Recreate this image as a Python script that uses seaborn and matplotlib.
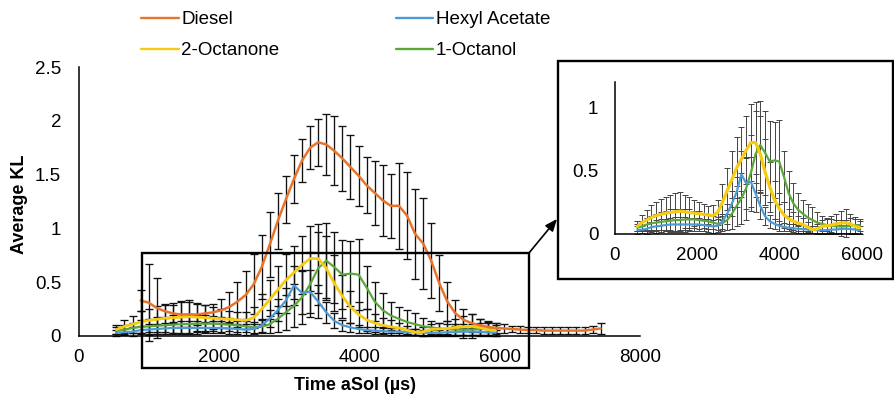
import numpy as np
import pandas as pd
import matplotlib
matplotlib.use("Agg")
import matplotlib.pyplot as plt
import seaborn as sns
from matplotlib.patches import Rectangle
from matplotlib.lines import Line2D

# ---------------- data ----------------
time_us = [540, 655, 770, 885, 1000, 1115, 1230, 1345, 1460, 1575, 1690, 1805,
           1920, 2035, 2150, 2265, 2380, 2495, 2610, 2725, 2840, 2955, 3070, 3185,
           3300, 3415, 3530, 3645, 3760, 3875, 3990, 4105, 4220, 4335, 4450, 4565,
           4680, 4795, 4910, 5025, 5140, 5255, 5370, 5485, 5600, 5715, 5830, 5945,
           6060, 6175, 6290, 6405, 6520, 6635, 6750, 6865, 6980, 7095, 7210, 7325, 7440]

# Diesel starts at 885 us
diesel_mean = [0.33, 0.31, 0.26, 0.23, 0.21, 0.20, 0.20, 0.20, 0.21, 0.22,
               0.24, 0.27, 0.32, 0.38, 0.48, 0.64, 0.85, 1.07, 1.27, 1.46,
               1.63, 1.75, 1.80, 1.78, 1.72, 1.65, 1.57, 1.49, 1.40, 1.33,
               1.26, 1.21, 1.21, 1.12, 0.95, 0.86, 0.70, 0.49, 0.32, 0.21,
               0.15, 0.12, 0.10, 0.085, 0.075, 0.07, 0.065, 0.06, 0.055, 0.055,
               0.05, 0.05, 0.05, 0.05, 0.05, 0.05, 0.06, 0.07]
diesel_err = [0.10, 0.36, 0.28, 0.06, 0.08, 0.12, 0.12, 0.10, 0.08, 0.08,
              0.10, 0.14, 0.18, 0.22, 0.28, 0.30, 0.30, 0.26, 0.22, 0.22,
              0.20, 0.20, 0.22, 0.28, 0.32, 0.30, 0.30, 0.28, 0.26, 0.30,
              0.33, 0.30, 0.40, 0.40, 0.42, 0.42, 0.35, 0.26, 0.18, 0.12,
              0.10, 0.08, 0.06, 0.05, 0.05, 0.04, 0.03, 0.03, 0.03, 0.03,
              0.03, 0.03, 0.03, 0.03, 0.03, 0.03, 0.03, 0.05]

# additives: 540 .. 5945 us
hexyl_mean = [0.03, 0.035, 0.04, 0.055, 0.06, 0.065, 0.07, 0.075, 0.075, 0.075,
              0.075, 0.075, 0.075, 0.075, 0.07, 0.065, 0.06, 0.065, 0.10, 0.16,
              0.24, 0.33, 0.47, 0.40, 0.41, 0.32, 0.22, 0.14, 0.10, 0.08,
              0.065, 0.055, 0.05, 0.045, 0.04, 0.04, 0.035, 0.035, 0.03, 0.03,
              0.03, 0.035, 0.035, 0.04, 0.04, 0.04, 0.035, 0.03]
hexyl_err = [0.03, 0.03, 0.04, 0.04, 0.05, 0.05, 0.05, 0.05, 0.06, 0.06,
             0.06, 0.05, 0.05, 0.05, 0.05, 0.05, 0.05, 0.05, 0.06, 0.08,
             0.10, 0.12, 0.18, 0.20, 0.20, 0.15, 0.10, 0.07, 0.05, 0.04,
             0.04, 0.03, 0.03, 0.03, 0.03, 0.03, 0.03, 0.03, 0.03, 0.03,
             0.03, 0.03, 0.03, 0.03, 0.03, 0.03, 0.03, 0.03]

octanone_mean = [0.06, 0.09, 0.11, 0.13, 0.145, 0.155, 0.165, 0.17, 0.175, 0.18,
                 0.175, 0.17, 0.165, 0.16, 0.155, 0.15, 0.145, 0.17, 0.25, 0.34,
                 0.43, 0.52, 0.59, 0.66, 0.72, 0.72, 0.63, 0.49, 0.37, 0.27,
                 0.20, 0.15, 0.12, 0.10, 0.085, 0.075, 0.055, 0.035, 0.04, 0.06,
                 0.065, 0.07, 0.08, 0.085, 0.09, 0.08, 0.06, 0.05]
octanone_err = [0.04, 0.06, 0.08, 0.10, 0.11, 0.12, 0.13, 0.14, 0.15, 0.15,
                0.13, 0.12, 0.10, 0.09, 0.08, 0.07, 0.08, 0.10, 0.14, 0.18,
                0.22, 0.24, 0.25, 0.27, 0.30, 0.32, 0.30, 0.26, 0.20, 0.15,
                0.12, 0.10, 0.08, 0.07, 0.06, 0.05, 0.04, 0.03, 0.04, 0.05,
                0.06, 0.07, 0.08, 0.10, 0.11, 0.08, 0.06, 0.05]

octanol_mean = [0.05, 0.06, 0.075, 0.085, 0.09, 0.095, 0.10, 0.105, 0.11, 0.11,
                0.115, 0.115, 0.115, 0.11, 0.105, 0.10, 0.09, 0.08, 0.085, 0.11,
                0.16, 0.22, 0.28, 0.36, 0.48, 0.63, 0.70, 0.64, 0.57, 0.58,
                0.57, 0.45, 0.32, 0.24, 0.19, 0.16, 0.13, 0.11, 0.09, 0.08,
                0.07, 0.065, 0.06, 0.06, 0.06, 0.065, 0.07, 0.07]
octanol_err = [0.03, 0.04, 0.05, 0.06, 0.07, 0.08, 0.08, 0.09, 0.09, 0.09,
               0.08, 0.08, 0.07, 0.07, 0.06, 0.06, 0.05, 0.05, 0.06, 0.08,
               0.12, 0.16, 0.20, 0.25, 0.30, 0.34, 0.35, 0.33, 0.32, 0.30,
               0.33, 0.20, 0.18, 0.16, 0.13, 0.11, 0.11, 0.10, 0.08, 0.06,
               0.05, 0.05, 0.05, 0.05, 0.05, 0.06, 0.06, 0.05]

series_names = ["Diesel", "Hexyl Acetate", "2-Octanone", "1-Octanol"]
series_colors = {"Diesel": "#E8742C", "Hexyl Acetate": "#4C9AD6",
                 "2-Octanone": "#F6CB12", "1-Octanol": "#5BA83A"}
main_xticks = [0, 2000, 4000, 6000, 8000]
main_yticks = [0, 0.5, 1, 1.5, 2, 2.5]
inset_xticks = [0, 2000, 4000, 6000]
inset_yticks = [0, 0.5, 1]

# ---------------- tables ----------------
diesel_t = time_us[3:3 + len(diesel_mean)]
add_t = time_us[:len(hexyl_mean)]
frames = [pd.DataFrame({"t": diesel_t, "kl": diesel_mean, "err": diesel_err, "fuel": "Diesel"}),
          pd.DataFrame({"t": add_t, "kl": hexyl_mean, "err": hexyl_err, "fuel": "Hexyl Acetate"}),
          pd.DataFrame({"t": add_t, "kl": octanone_mean, "err": octanone_err, "fuel": "2-Octanone"}),
          pd.DataFrame({"t": add_t, "kl": octanol_mean, "err": octanol_err, "fuel": "1-Octanol"})]
df = pd.concat(frames, ignore_index=True)

# ---------------- style ----------------
sns.set_theme(style="white")
plt.rcParams["font.family"] = ["Liberation Sans", "DejaVu Sans"]
plt.rcParams["text.color"] = "black"
plt.rcParams["axes.labelcolor"] = "black"

W, H = 894, 397
fig = plt.figure(figsize=(W / 100, H / 100), dpi=100)

def fx(px):
    return px / W

def fy(py):
    return 1 - py / H

ax = fig.add_axes([fx(78.5), fy(336), fx(640) - fx(78.5), fy(67) - fy(336)])
axin = fig.add_axes([fx(615), fy(234), fx(862) - fx(615), fy(81.6) - fy(234)])


def draw(a, names, lw_map, elw, ecol, cap):
    for name in names:
        d = df[df.fuel == name]
        eb = a.errorbar(d.t, d.kl, yerr=d.err, fmt="none", ecolor=ecol,
                        elinewidth=elw, capsize=cap, capthick=elw, zorder=2)
        for art in eb.get_children():
            art.set_clip_on(False)
    order = [n for n in ["1-Octanol", "Hexyl Acetate", "2-Octanone", "Diesel"] if n in names]
    for name in order:
        d = df[df.fuel == name]
        sns.lineplot(data=d, x="t", y="kl", color=series_colors[name],
                     lw=lw_map.get(name, 1.6), ax=a, zorder=3, legend=False)


draw(ax, series_names, {"Diesel": 1.8, "2-Octanone": 2.0, "Hexyl Acetate": 1.6,
                        "1-Octanol": 1.6}, 0.95, "#111111", 2.7)
draw(axin, ["Hexyl Acetate", "2-Octanone", "1-Octanol"],
     {"2-Octanone": 2.3, "Hexyl Acetate": 1.6, "1-Octanol": 1.6}, 0.7, "#444444", 2.2)

for a, xt, yt, xl, yl, xpad, ypad in [
        (ax, main_xticks, main_yticks, (0, 8000), (0, 2.5), 5, 8),
        (axin, inset_xticks, inset_yticks, (0, 6000), (0, 1.2), 5, 7.5)]:
    a.set_xlim(*xl)
    a.set_ylim(*yl)
    a.set_xticks(xt)
    a.set_yticks(yt)
    a.set_xticklabels([f"{v:g}" for v in xt])
    a.set_yticklabels([f"{v:g}" for v in yt])
    for s in ["top", "right"]:
        a.spines[s].set_visible(False)
    for s in ["left", "bottom"]:
        a.spines[s].set_color("black")
        a.spines[s].set_linewidth(1.1)
    a.tick_params(axis="both", direction="inout", length=9, width=1.1,
                  colors="black", labelsize=13.5)
    a.tick_params(axis="x", pad=xpad)
    a.tick_params(axis="y", pad=ypad)
    a.set_xlabel("")
    a.set_ylabel("")
    a.patch.set_alpha(0)
    a.grid(False)

ax.set_xlabel("Time aSol (µs)", fontsize=13, fontweight="bold", color="black")
ax.set_ylabel("Average KL", fontsize=13, fontweight="bold", color="black")
ax.xaxis.set_label_coords((355 - 78.5) / (640 - 78.5), (336 - 386) / (336 - 67))
ax.xaxis.label.set_va("center")
ax.yaxis.set_label_coords((20 - 78.5) / (640 - 78.5), (336 - 204) / (336 - 67))
ax.yaxis.label.set_va("center")

# zoom rectangle on main chart
rect = Rectangle((900, -0.30), 6420 - 900, 0.773 + 0.30, fill=False,
                 edgecolor="black", lw=1.7, clip_on=False, zorder=5)
ax.add_patch(rect)

# inset frame
frame = Rectangle((fx(558), fy(279)), fx(893) - fx(558), fy(61) - fy(279),
                  transform=fig.transFigure, fill=False, edgecolor="black", lw=1.7)
fig.patches.append(frame)

# arrow from zoom rectangle to inset frame
ax.annotate("", xy=(fx(557), fy(219)), xycoords="figure fraction",
            xytext=(6420, 0.773), textcoords="data",
            arrowprops=dict(arrowstyle="-|>,head_length=0.6,head_width=0.25",
                            color="black", lw=1.2, shrinkA=0, shrinkB=0),
            annotation_clip=False)

# legend
handles = [Line2D([], [], color=series_colors[n], lw=1.7) for n in
           ["Diesel", "2-Octanone", "Hexyl Acetate", "1-Octanol"]]
labels = ["Diesel", "2-Octanone", "Hexyl Acetate", "1-Octanol"]
fig.legend(handles, labels, ncol=2, loc="upper left",
           bbox_to_anchor=(fx(141), fy(11)), frameon=False, fontsize=13.5,
           handlelength=2.0, handletextpad=0.15, columnspacing=6.2,
           labelspacing=0.75, borderpad=0, borderaxespad=0, labelcolor="black")

fig.savefig("out.png", dpi=100)
